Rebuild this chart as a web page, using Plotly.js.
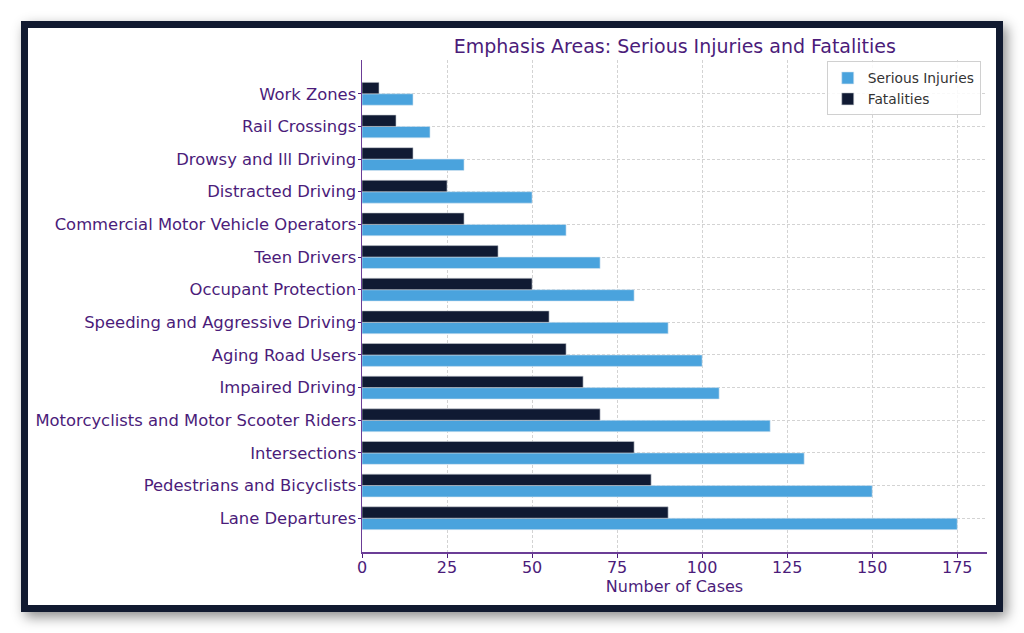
<!DOCTYPE html>
<html>
<head>
<meta charset="utf-8">
<script src="https://cdn.plot.ly/plotly-3.0.1.min.js"></script>
<style>
  html, body { margin: 0; padding: 0; background: #ffffff; }
  #wrap { position: relative; width: 1024px; height: 633px; overflow: hidden; }
  #chart { position: absolute; left: 0; top: 0; width: 1024px; height: 633px; }
  #frame { position: absolute; left: 21px; top: 21px; width: 968px; height: 577px;
           border: 7px solid #111a30; box-shadow: 4px 5px 12px rgba(0,0,0,0.45);
           pointer-events: none; }
</style>
</head>
<body>
<div id="wrap">
  <div id="chart"></div>
  <div id="frame"></div>
</div>
<script>
const categories = [
  "Lane Departures",
  "Pedestrians and Bicyclists",
  "Intersections",
  "Motorcyclists and Motor Scooter Riders",
  "Impaired Driving",
  "Aging Road Users",
  "Speeding and Aggressive Driving",
  "Occupant Protection",
  "Teen Drivers",
  "Commercial Motor Vehicle Operators",
  "Distracted Driving",
  "Drowsy and Ill Driving",
  "Rail Crossings",
  "Work Zones"
];
const seriousInjuries = [175, 150, 130, 120, 105, 100, 90, 80, 70, 60, 50, 30, 20, 15];
const fatalities = [90, 85, 80, 70, 65, 60, 55, 50, 40, 30, 25, 15, 10, 5];
const xTicks = [0, 25, 50, 75, 100, 125, 150, 175];

const purple = "#4b1c7a";
const font = "DejaVu Sans, sans-serif";

const traces = [
  {
    type: "bar", orientation: "h", name: "Serious Injuries",
    y: categories, x: seriousInjuries,
    marker: { color: "#4aa3dd", line: { color: "#d8e6f0", width: 0.6 } },
    hoverinfo: "x+y"
  },
  {
    type: "bar", orientation: "h", name: "Fatalities",
    y: categories, x: fatalities,
    marker: { color: "#101a33", line: { color: "#c8ccd4", width: 0.6 } },
    hoverinfo: "x+y"
  }
];

const layout = {
  width: 1024, height: 633,
  paper_bgcolor: "#ffffff", plot_bgcolor: "#ffffff",
  margin: { l: 362, r: 37, t: 60, b: 81, pad: 0 },
  barmode: "group", bargap: 0.3, bargroupgap: 0,
  font: { family: font, color: purple },
  title: {
    text: "Emphasis Areas: Serious Injuries and Fatalities",
    font: { family: font, size: 19, color: purple },
    x: 0.659, xanchor: "center", y: 0.927, yanchor: "middle"
  },
  xaxis: {
    range: [0, 183.75],
    tickvals: xTicks, ticktext: xTicks.map(String),
    ticks: "outside", ticklen: 4, tickcolor: purple, tickwidth: 1,
    ticklabelstandoff: -4,
    tickfont: { family: font, size: 16, color: purple },
    showgrid: true, gridcolor: "#d3d3d3", griddash: "3px,2px", gridwidth: 1,
    zeroline: false,
    showline: true, linecolor: "#6b3d96", linewidth: 1.5,
    layer: "above traces",
    title: { text: "Number of Cases", font: { family: font, size: 16, color: purple }, standoff: 2 }
  },
  yaxis: {
    type: "category",
    categoryorder: "array", categoryarray: categories,
    range: [-1.035, 14.035],
    ticks: "outside", ticklen: 3, tickcolor: purple, tickwidth: 1,
    ticklabelstandoff: -2,
    tickfont: { family: font, size: 16.4, color: purple },
    showgrid: true, gridcolor: "#d3d3d3", griddash: "3px,2px", gridwidth: 1,
    zeroline: false,
    showline: true, linecolor: "#6b3d96", linewidth: 1.5,
    layer: "above traces"
  },
  legend: {
    x: 0.99, xanchor: "right", y: 0.997, yanchor: "top",
    bgcolor: "rgba(255,255,255,0.85)", bordercolor: "#d0d0d0", borderwidth: 1,
    font: { family: font, size: 13.8, color: "#333333" },
    traceorder: "normal"
  },
  showlegend: true
};

Plotly.newPlot("chart", traces, layout, { displayModeBar: false, staticPlot: true });
</script>
</body>
</html>
